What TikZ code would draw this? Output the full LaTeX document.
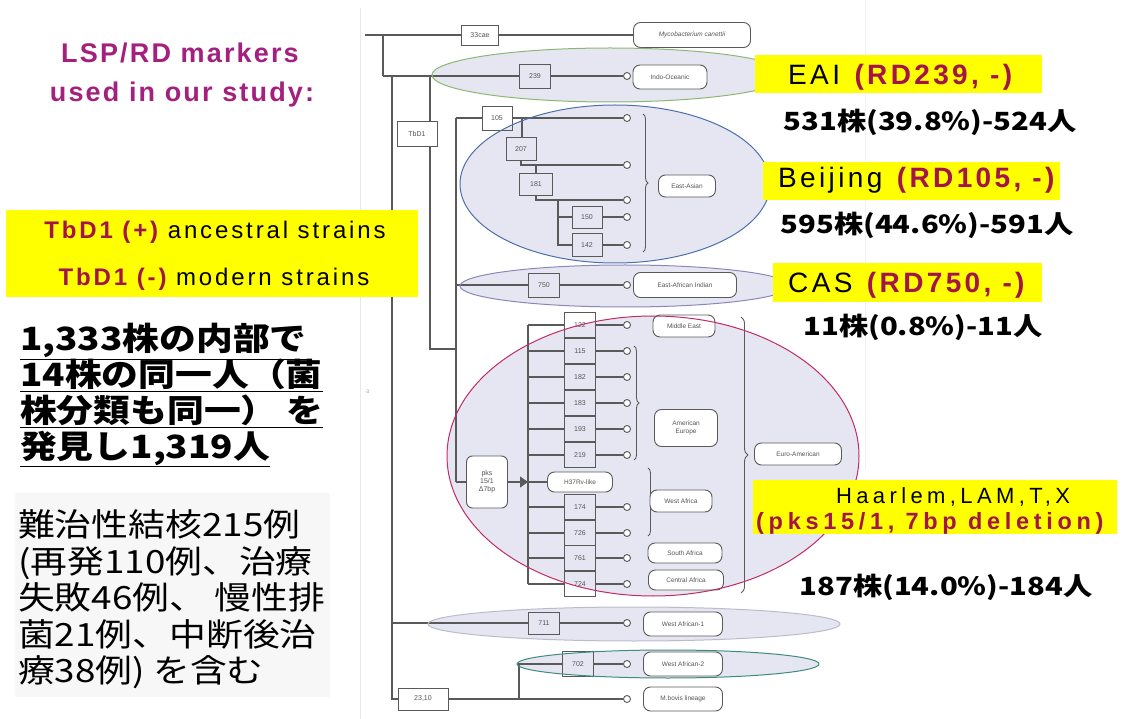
\documentclass[tikz,border=0pt]{standalone}
\usepackage{fontspec}
\setmainfont{Liberation Sans}
\newfontfamily\spf{Liberation Sans}[LetterSpace=12]
\newfontfamily\spfw{Liberation Sans}[LetterSpace=20]
\newfontfamily\lspf{Liberation Sans}[LetterSpace=8]
\newfontfamily\jpf{Noto Sans CJK JP}[FakeStretch=1.15]
\newfontfamily\cntf{Noto Sans CJK JP}[FakeStretch=1.17]
\newfontfamily\trf{Liberation Sans}
\usetikzlibrary{decorations.pathreplacing,arrows.meta}
\definecolor{lav}{HTML}{E6E6F3}
\definecolor{tline}{HTML}{5A5A5A}
\definecolor{ttext}{HTML}{555555}
\definecolor{ioedge}{HTML}{8DB873}
\definecolor{eaedge}{HTML}{4D6FAA}
\definecolor{eaiedge}{HTML}{8C87B8}
\definecolor{euedge}{HTML}{C02C66}
\definecolor{waoneedge}{HTML}{BBBBCE}
\definecolor{watwoedge}{HTML}{3F8C7D}
\definecolor{hl}{HTML}{FFFF00}
\definecolor{rdred}{HTML}{A3144A}
\definecolor{lspc}{HTML}{A3207E}
\definecolor{txtbg}{HTML}{F7F7F7}
\newcommand{\tfnt}{\trf\fontsize{7}{8}\selectfont}
\newcommand{\lfnt}{\trf\fontsize{6.5}{7.5}\selectfont}
\begin{document}
\begin{tikzpicture}[x=1pt,y=-1pt,
  tl/.style={draw=tline, line width=1.1pt},
  rd/.style={draw=tline, line width=0.9pt, inner sep=0pt, minimum width=31pt, minimum height=24pt, font=\tfnt, text=ttext},
  lin/.style={draw=tline, line width=0.9pt, fill=white, rounded corners=7pt, inner sep=0pt, minimum height=24pt, font=\lfnt, text=ttext, align=center},
  leaf/.style={circle, draw=tline, line width=0.9pt, fill=white, inner sep=0pt, minimum size=7pt},
  brc/.style={draw=tline, line width=0.9pt, decorate, decoration={brace, amplitude=5pt}},
  ell/.style={line width=1pt},
  hltxt/.style={inner sep=0pt, anchor=base west, font=\spf\fontsize{28}{30}\selectfont},
  cnt/.style={inner sep=0pt, font=\cntf\bfseries\fontsize{25}{28}\selectfont},
  jpu/.style={inner sep=0pt, anchor=base west, font=\jpf\bfseries\fontsize{32}{36}\selectfont},
  jpl/.style={inner sep=0pt, anchor=base west, font=\jpf\fontsize{32}{36}\selectfont},
  lsp/.style={inner sep=0pt, text=lspc, font=\lspf\bfseries\fontsize{27}{30}\selectfont}
]
\useasboundingbox (0,0) rectangle (1128,719);
\fill[white] (0,0) rectangle (1128,719);
% faint frame lines
\draw[black!9, line width=0.8pt] (360,8) -- (360,719);
\draw[black!6, line width=0.8pt] (865,0) -- (865,470);
\fill[txtbg] (15,493) rectangle (330,697);

% ellipse fills
\fill[lav] (610,75) ellipse [x radius=178pt, y radius=27pt];
\fill[lav] (615,184) ellipse [x radius=155pt, y radius=79pt];
\fill[lav] (625,286) ellipse [x radius=165pt, y radius=21pt];
\fill[lav] (653,456) ellipse [x radius=206pt, y radius=140pt];
\fill[lav] (634,624) ellipse [x radius=206pt, y radius=17pt];
\fill[lav] (668,664) ellipse [x radius=151pt, y radius=14pt];

% ---- tree ----
\coordinate (r0) at (365,35);
\coordinate (r1) at (383,35);
\node[rd, minimum width=37pt, minimum height=20pt] (b33) at (480,35) {33cae};
\node[lin, minimum width=117pt, minimum height=25pt, font=\lfnt\itshape] (mcan) at (692,35) {Mycobacterium canettii};
\draw[tl] (r0) -- (b33) -- (mcan);
\coordinate (mt) at (383,76);
\draw[tl] (r1) -- (mt);
\node[rd] (b239) at (535,76) {239};
\node[leaf] (c239) at (627,76) {};
\node[lin, minimum width=74pt] (io) at (670,77) {Indo-Oceanic};
\draw[tl] (mt) -- (b239) -- (c239);

\coordinate (a392) at (392,76);
\coordinate (a430) at (430,76);
\node[rd, minimum width=40pt, minimum height=25pt] (tbd) at (417,134) {TbD1};
\coordinate (t349) at (430,349);
\coordinate (m349) at (456,349);
\draw[tl] (a430) -- (a430 |- tbd.north);
\draw[tl] (a430 |- tbd.south) -- (t349) -- (m349);

\coordinate (v118) at (456,118);
\coordinate (v285) at (456,285);
\coordinate (v482) at (456,482);
\draw[tl] (v118) -- (v482);

% East-Asian
\node[rd, minimum width=30pt] (b105) at (497,118) {105};
\node[leaf] (c105) at (627,118) {};
\draw[tl] (v118) -- (b105) -- (c105);
\coordinate (j105) at (522,118);
\node[rd, minimum width=30pt, minimum height=23pt] (b207) at (521,149) {207};
\draw[tl] (j105) -- (j105 |- b207.north);
\node[leaf] (c207) at (627,165) {};
\draw[tl] (b207.south) |- (c207);
\coordinate (j207) at (536,165);
\node[rd, minimum width=33pt, minimum height=22pt] (b181) at (536,184) {181};
\draw[tl] (j207) -- (b181);
\node[leaf] (c181) at (627,200) {};
\draw[tl] (b181.south) |- (c181);
\coordinate (j181) at (558,200);
\node[rd, minimum width=30pt, minimum height=22pt] (b150) at (587,217) {150};
\node[rd, minimum width=30pt, minimum height=23pt] (b142) at (587,245) {142};
\draw[tl] (j181) |- (b142);
\draw[tl] (j181 |- b150) -- (b150);
\node[leaf] (c150) at (627,217) {};
\node[leaf] (c142) at (627,245) {};
\draw[tl] (b150) -- (c150);
\draw[tl] (b142) -- (c142);
\draw[brc] (643,114) -- (643,252);
\node[lin, minimum width=57pt, minimum height=22pt] (ea) at (687,186) {East-Asian};

% East-African Indian
\node[rd] (b750) at (544,285) {750};
\node[leaf] (c750) at (627,285) {};
\node[lin, minimum width=103pt, minimum height=25pt] (eai) at (685,285) {East-African Indian};
\draw[tl] (v285) -- (b750) -- (c750);

% Euro-American
\node[lin, minimum width=41pt, minimum height=52pt, rounded corners=6pt, font=\tfnt] (pks) at (487,482) {pks\\15/1\\Δ7bp};
\draw[tl] (v482) -- (pks);
\coordinate (e1) at (528,325);
\coordinate (e2) at (528,584);
\draw[tl] (e1) -- (e2);
\foreach \lab/\yy in {122/325,115/351,182/377,183/403,193/429,219/455,174/507,726/533,761/558,724/584}{
  \node[rd, minimum height=25.5pt] (b\lab) at (580,\yy) {\lab};
  \node[leaf] (c\lab) at (627,\yy) {};
  \coordinate (l\lab) at (528,\yy);
  \draw[tl] (l\lab) -- (b\lab) -- (c\lab);
}
\node[lin, minimum width=65pt, minimum height=20pt] (h37) at (580,482) {H37Rv-like};
\coordinate (tri) at (528,482);
\draw[tl, {Triangle[length=8pt,width=11pt]}-] (tri) -- (pks);
\draw[tl] (tri) -- (h37);
\draw[brc] (634,346) -- (634,460);
\draw[brc] (648,468) -- (648,536);
\draw[brc, decoration={brace, amplitude=7pt}] (741,317) -- (741,593);
\node[lin, minimum width=62pt, minimum height=22pt] (me) at (684,326) {Middle East};
\node[lin, minimum width=63pt, minimum height=37pt] (ae) at (686,428) {American\\Europe};
\node[lin, minimum width=62pt, minimum height=22pt] (wa) at (681,501) {West Africa};
\node[lin, minimum width=74pt, minimum height=20pt] (sa) at (685,553) {South Africa};
\node[lin, minimum width=75pt, minimum height=20pt] (ca) at (686,580) {Central Africa};
\node[lin, minimum width=87pt, minimum height=22pt] (eu) at (798,454) {Euro-American};

% West African lineages
\coordinate (w1) at (392,623);
\node[rd, minimum height=22pt] (b711) at (544,623) {711};
\node[leaf] (c711) at (627,623) {};
\node[lin, minimum width=79pt] (wa1) at (683,624) {West African-1};
\draw[tl] (w1) -- (b711) -- (c711);
\node[rd, minimum width=50pt, minimum height=22pt] (b2310) at (423,699) {23,10};
\draw[tl] (a392) |- (b2310);
\node[leaf] (c2310) at (627,699) {};
\draw[tl] (b2310) -- (c2310);
\coordinate (j2310) at (519,699);
\node[rd, minimum width=31pt, minimum height=25pt] (b702) at (578,664) {702};
\node[leaf] (c702) at (627,664) {};
\draw[tl] (j2310) |- (b702);
\draw[tl] (b702) -- (c702);
\node[lin, minimum width=79pt] (wa2) at (683,664) {West African-2};
\node[lin, minimum width=79pt] (mb) at (683,699) {M.bovis lineage};
\node[inner sep=0pt, text=black!45, font=\trf\fontsize{5}{6}\selectfont] (dot3) at (367,392) {·3};

% ellipse outlines
\draw[ell, ioedge] (610,75) ellipse [x radius=178pt, y radius=27pt];
\draw[ell, eaedge] (615,184) ellipse [x radius=155pt, y radius=79pt];
\draw[ell, eaiedge] (625,286) ellipse [x radius=165pt, y radius=21pt];
\draw[ell, euedge] (653,456) ellipse [x radius=206pt, y radius=140pt];
\draw[ell, waoneedge] (634,624) ellipse [x radius=206pt, y radius=17pt];
\draw[ell, watwoedge] (668,664) ellipse [x radius=151pt, y radius=14pt];

% ---- right labels ----
\fill[hl] (755,55) rectangle (1042,93);
\node[hltxt] (eait) at (788,85) {EAI \textbf{\color{rdred}(RD239, -)}};
\node[cnt] (n531) at (930,122) {531株(39.8\%)-524人};
\fill[hl] (763,162) rectangle (1060,200);
\node[hltxt] (bjt) at (778,188) {Beijing \textbf{\color{rdred}(RD105, -)}};
\node[cnt] (n595) at (927,225) {595株(44.6\%)-591人};
\fill[hl] (773,263) rectangle (1042,302);
\node[hltxt] (cast) at (788,293) {CAS \textbf{\color{rdred}(RD750, -)}};
\node[cnt] (n11) at (923,327) {11株(0.8\%)-11人};
\fill[hl] (753,480) rectangle (1117,534);
\node[inner sep=0pt, anchor=base, font=\spfw\fontsize{22}{24}\selectfont] (haar) at (953,503) {Haarlem,LAM,T,X};
\node[inner sep=0pt, anchor=base west, text=rdred, font=\spfw\bfseries\fontsize{23.5}{26}\selectfont] (pkst) at (756,529) {(pks15/1, 7bp deletion)};
\node[cnt] (n187) at (946,587) {187株(14.0\%)-184人};

% ---- left texts ----
\node[lsp] (lsp1) at (180,53) {LSP/RD markers};
\node[lsp] (lsp2) at (182,95) {used in our study:};
\fill[hl] (6,210) rectangle (418,297);
\node[inner sep=0pt, font=\spf\fontsize{24}{26}\selectfont] (tb1) at (215,232) {\textbf{\color{rdred}TbD1 (+)} ancestral strains};
\node[inner sep=0pt, font=\spf\fontsize{24}{26}\selectfont] (tb2) at (214,279) {\textbf{\color{rdred}TbD1 (-)} modern strains};
\node[jpu] (u1) at (20,351) {\underline{1,333株の内部で}};
\node[jpu] (u2) at (20,387) {\underline{14株の同一人（菌}};
\node[jpu] (u3) at (20,423) {\underline{株分類も同一） を}};
\node[jpu] (u4) at (20,458) {\underline{発見し1,319人}};
\node[jpl] (d1) at (18,536) {難治性結核215例};
\node[jpl] (d2) at (18,573) {(再発110例、治療};
\node[jpl] (d3) at (18,609) {失敗46例、 慢性排};
\node[jpl] (d4) at (18,646) {菌21例、中断後治};
\node[jpl] (d5) at (18,682) {療38例) を含む};
\end{tikzpicture}
\end{document}
